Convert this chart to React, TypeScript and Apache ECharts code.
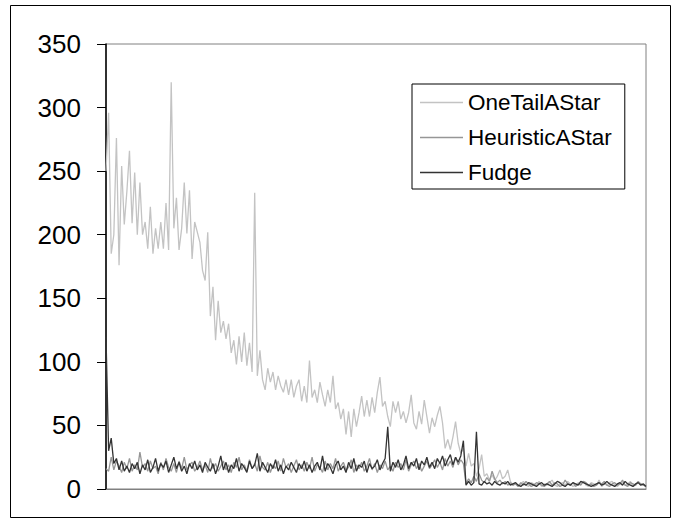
import React, { useEffect, useRef } from "react";
import * as echarts from "echarts";

const seriesNames = ["OneTailAStar", "HeuristicAStar", "Fudge"];

const oneTailAStar = [
  250, 296, 185, 200, 276, 176, 254, 208, 234, 266,
  209, 249, 200, 241, 200, 210, 189, 222, 185, 205,
  189, 210, 189, 225, 188, 320, 205, 229, 188, 205,
  241, 201, 235, 181, 210, 202, 194, 172, 164, 202,
  136, 159, 117, 148, 123, 132, 118, 130, 107, 117,
  98, 120, 100, 123, 97, 115, 92, 233, 89, 109,
  86, 78, 95, 84, 92, 78, 89, 81, 76, 86,
  74, 86, 72, 81, 86, 69, 81, 68, 101, 72,
  78, 68, 84, 74, 65, 78, 68, 89, 63, 68,
  55, 63, 43, 61, 41, 63, 49, 60, 73, 57,
  70, 57, 72, 60, 76, 88, 65, 69, 57, 49,
  69, 60, 69, 55, 61, 52, 60, 74, 52, 47,
  61, 51, 70, 57, 44, 56, 49, 58, 65, 52,
  32, 39, 31, 41, 53, 36, 28, 32, 18, 28,
  18, 20, 10, 16, 27, 10, 12, 7, 11, 7,
  10, 15, 8, 10, 15, 6,
  3, 5, 2, 4, 6, 3, 2, 5, 4, 3, 6, 2, 4, 3, 5, 7, 3, 2, 4, 5,
  3, 6, 4, 2, 3, 5, 4, 6, 3, 2, 5, 4, 3, 7, 2, 4, 3, 5, 6, 3,
  2, 4, 5, 3, 4, 6, 2, 3, 5, 4, 3, 2,
];

const heuristicAStar = [
  16, 14, 25, 15, 22, 18, 13, 21, 16, 24,
  14, 19, 15, 29, 17, 20, 14, 22, 16, 18,
  12, 21, 15, 24, 17, 14, 20, 13, 22, 16,
  25, 15, 19, 21, 14, 17, 22, 15, 19, 13,
  24, 16, 20, 14, 18, 22, 15, 19, 13, 21,
  17, 25, 15, 19, 14, 23, 16, 20, 14, 26,
  17, 15, 21, 13, 19, 16, 22, 14, 24, 17,
  20, 13, 18, 23, 15, 19, 14, 21, 16, 25,
  14, 19, 17, 13, 22, 15, 20, 16, 24, 14,
  18, 21, 15, 17, 23, 13, 19, 16, 21, 14,
  18, 24, 15, 20, 13, 19, 16, 22, 15, 18,
  14, 21, 17, 20, 15, 23, 14, 19, 22, 16,
  20, 14, 18, 22, 16, 19, 23, 17, 21, 15,
  24, 18, 22, 17, 25, 19, 23, 20, 4, 8,
  5, 10, 6, 12, 7, 5, 9, 6, 14, 8,
  5, 7, 4, 6, 3, 5,
  3, 4, 2, 5, 3, 6, 4, 2, 3, 5, 4, 3, 2, 4, 6, 3, 5, 4, 2, 3,
  7, 4, 3, 5, 2, 4, 3, 6, 5, 3, 4, 2, 3, 5, 4, 6, 3, 2, 4, 5,
  3, 4, 7, 3, 2, 5, 4, 3, 6, 4, 3, 2,
];

const fudge = [
  120, 30, 40, 20, 24, 15, 22, 14, 18, 13,
  20, 16, 21, 12, 19, 15, 23, 13, 17, 24,
  14, 20, 17, 22, 13, 19, 25, 16, 21, 14,
  18, 12, 20, 16, 22, 15, 19, 13, 21, 17,
  14, 20, 12, 18, 26, 15, 21, 13, 19, 16,
  24, 14, 20, 17, 13, 22, 16, 19, 28, 14,
  21, 17, 13, 20, 16, 23, 14, 19, 12, 18,
  15, 21, 17, 13, 20, 16, 22, 14, 19, 13,
  18, 21, 15, 26, 14, 20, 17, 12, 19, 22,
  15, 18, 13, 21, 16, 24, 14, 19, 17, 22,
  13, 20, 16, 18, 23, 15, 20, 24, 49, 14,
  21, 17, 23, 15, 19, 26, 16, 21, 18, 24,
  15, 22, 19, 25, 17, 21, 16, 24, 20, 26,
  18, 23, 27, 19, 25, 21, 26, 38, 3, 6,
  3, 5, 45, 4, 3, 6, 4, 5, 3, 6,
  4, 3, 5, 4, 6, 3,
  4, 5, 3, 2, 4, 3, 5, 4, 3, 2, 4, 5, 3, 4, 3, 2, 4, 6, 5, 3,
  2, 4, 3, 5, 4, 3, 6, 5, 4, 3, 2, 3, 4, 5, 3, 4, 6, 4, 3, 2,
  4, 5, 3, 6, 4, 3, 2, 4, 5, 3, 4, 2,
];

const yTicks = [0, 50, 100, 150, 200, 250, 300, 350];

const categories = oneTailAStar.map((_, i) => String(i + 1));

const FONT = "'Liberation Sans', Arial, sans-serif";

export default function App() {
  const ref = useRef<HTMLDivElement>(null);

  useEffect(() => {
    if (!ref.current) return;
    const chart = echarts.init(ref.current, null, { renderer: "svg" });
    chart.setOption({
      animation: false,
      backgroundColor: "#ffffff",
      textStyle: { fontFamily: FONT },
      grid: {
        left: 106,
        top: 44,
        right: 33,
        bottom: 37,
        show: true,
        borderColor: "#808080",
        borderWidth: 1,
        backgroundColor: "transparent",
      },
      graphic: [
        {
          type: "rect",
          shape: { x: 10.5, y: 5.5, width: 660, height: 512 },
          style: { fill: "none", stroke: "#000000", lineWidth: 1 },
          silent: true,
        },
      ],
      legend: {
        orient: "vertical",
        left: 412,
        top: 84,
        padding: [7, 13, 5, 8],
        itemGap: 12,
        itemWidth: 43,
        itemHeight: 1.5,
        icon: "rect",
        borderColor: "#000000",
        borderWidth: 1,
        backgroundColor: "#ffffff",
        data: seriesNames,
        textStyle: {
          fontFamily: FONT,
          fontSize: 22.5,
          lineHeight: 22,
          color: "#000000",
          padding: [0, 0, 0, 0],
        },
      },
      xAxis: {
        type: "category",
        data: categories,
        boundaryGap: false,
        axisLine: { show: true, lineStyle: { color: "#808080", width: 1 } },
        axisTick: { show: false },
        axisLabel: { show: false },
        splitLine: { show: false },
      },
      yAxis: {
        type: "value",
        min: yTicks[0],
        max: yTicks[yTicks.length - 1],
        interval: 50,
        axisLine: { show: true, lineStyle: { color: "#000000", width: 1.5 } },
        axisTick: {
          show: true,
          inside: false,
          length: 9,
          lineStyle: { color: "#000000", width: 1 },
        },
        axisLabel: {
          show: true,
          margin: 25,
          fontFamily: FONT,
          fontSize: 26,
          color: "#000000",
          padding: [5, 0, 0, 0],
        },
        splitLine: { show: false },
      },
      series: [
        {
          name: seriesNames[0],
          type: "line",
          data: oneTailAStar,
          showSymbol: false,
          symbol: "none",
          lineStyle: { color: "#c3c3c3", width: 1.3 },
          itemStyle: { color: "#c3c3c3" },
          z: 1,
        },
        {
          name: seriesNames[1],
          type: "line",
          data: heuristicAStar,
          showSymbol: false,
          symbol: "none",
          lineStyle: { color: "#969696", width: 1.3 },
          itemStyle: { color: "#969696" },
          z: 2,
        },
        {
          name: seriesNames[2],
          type: "line",
          data: fudge,
          showSymbol: false,
          symbol: "none",
          lineStyle: { color: "#333333", width: 1.3 },
          itemStyle: { color: "#333333" },
          z: 3,
        },
      ],
    });
    return () => chart.dispose();
  }, []);

  return (
    <div
      ref={ref}
      style={{ position: "fixed", left: 0, top: 0, width: 679, height: 526, background: "#fff" }}
    />
  );
}
